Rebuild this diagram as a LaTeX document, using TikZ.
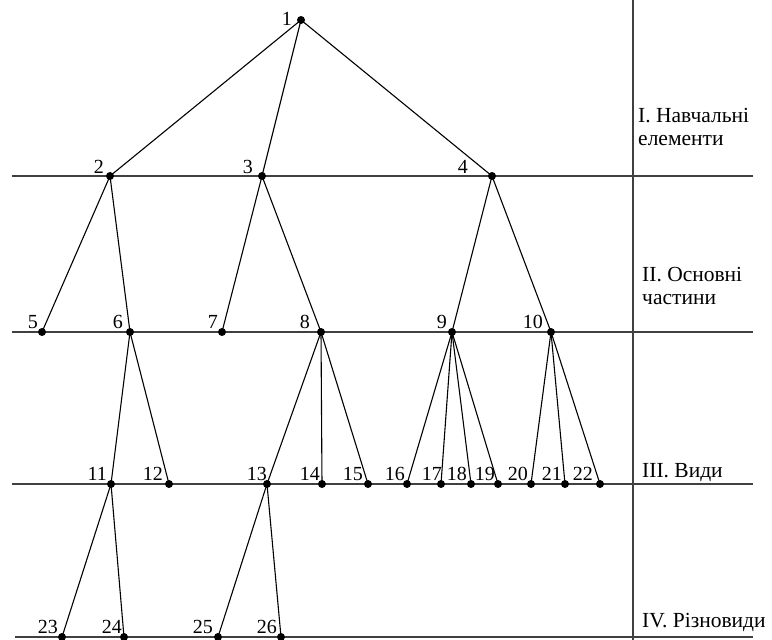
\documentclass[tikz,border=0pt]{standalone}
\usepackage{fontspec}
\setmainfont{Liberation Serif}
\newfontfamily\tnr{Liberation Serif}
\begin{document}
\begin{tikzpicture}[x=1pt,y=-1pt,
  dot/.style={circle,fill=black,inner sep=0pt,minimum size=8pt},
  num/.style={inner sep=0pt,font=\tnr\fontsize{20}{24}\selectfont},
  lvl/.style={inner sep=0pt,align=left,font=\tnr\fontsize{21.5}{23}\selectfont},
  edge/.style={line width=1.1pt,black},
  rule/.style={line width=1.1pt,black!75}]
\useasboundingbox (0,0) rectangle (772,640);
% levels
\foreach \y in {176,332,484}
  \draw[rule] (12,\y) -- (753,\y);
\draw[rule] (15,637) -- (753,637);
\draw[rule] (633,0) -- (633,640);
% vertices: number / x / y / label shift x / label shift y
\foreach \n/\x/\y/\dx/\dy in {1/301/20/9/-5,
  2/110/176/6/3, 3/262/176/9/3, 4/492/176/24/3,
  5/42/332/4/4, 6/130/332/7/4, 7/222/332/4/4, 8/321/332/11/4,
  9/452/332/5/4, 10/551/332/8/4,
  11/111/484/4/4, 12/169/484/6/4, 13/267/484/0/4, 14/322/484/2/4,
  15/368/484/5/4, 16/407/484/2/4, 17/441/484/-1/4, 18/471/484/4/4,
  19/498/484/3/4, 20/531/484/3/4, 21/565/484/3/4, 22/600/484/7/4,
  23/62/637/4/4, 24/124/637/2/4, 25/218/637/5/4, 26/281/637/4/4}
{
  \node[dot] (v\n) at (\x,\y) {};
  \node[num,anchor=base east] (l\n) at ([xshift=-\dx pt,yshift=\dy pt]v\n.center) {\n};
}
% tree
\foreach \a/\b in {1/2,1/3,1/4,2/5,2/6,3/7,3/8,4/9,4/10,
  6/11,6/12,8/13,8/14,8/15,9/16,9/17,9/18,9/19,10/20,10/21,10/22,
  11/23,11/24,13/25,13/26}
  \draw[edge] (v\a.center) -- (v\b.center);
% level names
\node[lvl,anchor=base west] (t1) at (638,145) {I. Навчальні\\елементи};
\node[lvl,anchor=base west] (t2) at (642,304) {II. Основні\\частини};
\node[lvl,anchor=base west] (t3) at (642,477) {III. Види};
\node[lvl,anchor=base west] (t4) at (642,627) {IV. Різновиди};
\end{tikzpicture}
\end{document}
